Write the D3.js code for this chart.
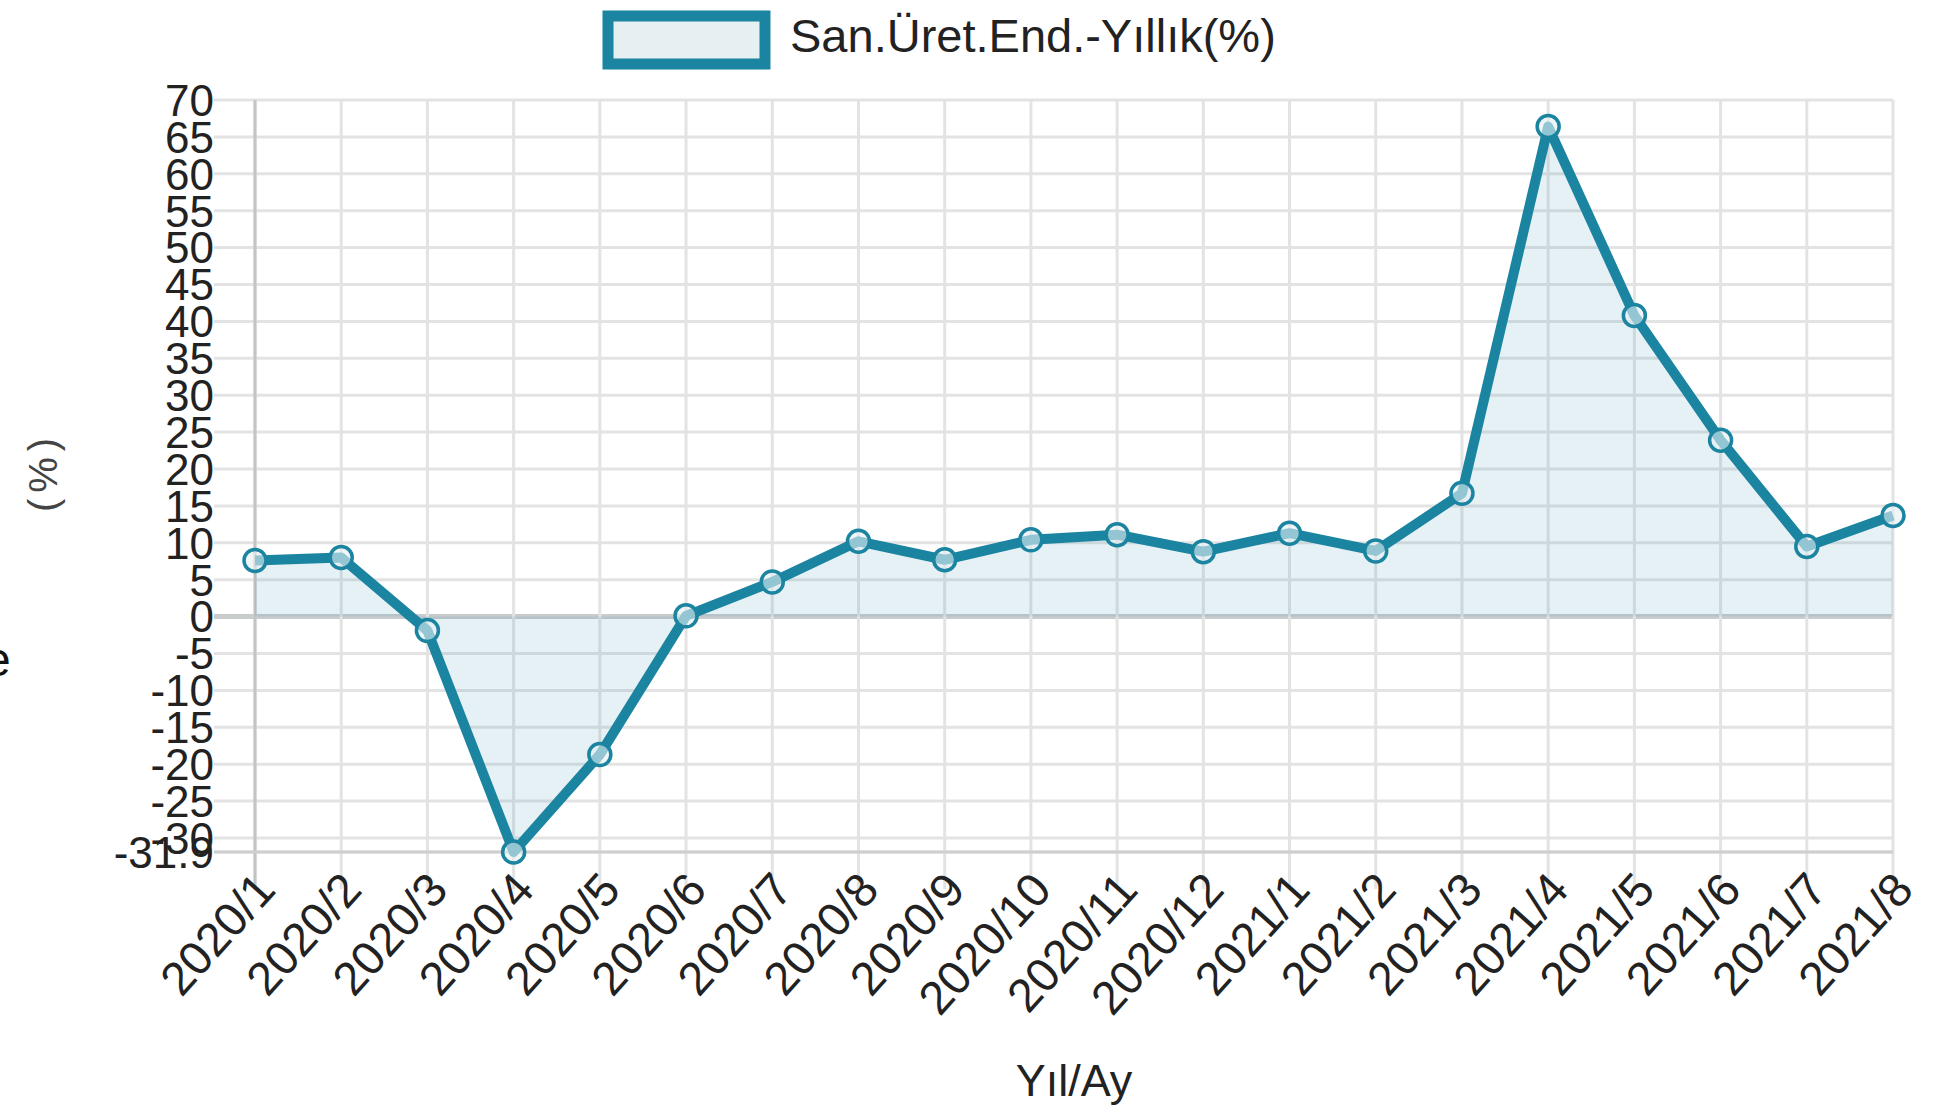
<!DOCTYPE html>
<html>
<head>
<meta charset="utf-8">
<script src="https://cdn.jsdelivr.net/npm/d3@7"></script>
<style>
  html, body { margin: 0; padding: 0; background: #fff; overflow: hidden; }
  text { font-family: "Liberation Sans", Arial, sans-serif; }
</style>
</head>
<body>
<div id="chart"></div>
<script>
// Data
var months = ["2020/1", "2020/2", "2020/3", "2020/4", "2020/5", "2020/6", "2020/7", "2020/8", "2020/9", "2020/10",
              "2020/11", "2020/12", "2021/1", "2021/2", "2021/3", "2021/4", "2021/5", "2021/6", "2021/7", "2021/8"];
var values = [7.6, 8.0, -1.9, -31.9, -18.7, 0.1, 4.7, 10.2, 7.7, 10.4,
              11.1, 8.8, 11.3, 8.9, 16.7, 66.4, 40.8, 23.9, 9.5, 13.7];
var yTicks = [-31.9, -30, -25, -20, -15, -10, -5, 0, 5, 10, 15, 20, 25, 30, 35, 40, 45, 50, 55, 60, 65, 70];
var seriesName = "San.Üret.End.-Yıllık(%)";
var xTitle = "Yıl/Ay";
var yTitle = "(%)";

var W = 1944, H = 1110;
var margin = {top: 100, right: 51, bottom: 258, left: 255};
var color = "#1b84a1";
var fillColor = "rgba(27,132,161,0.11)";
var gridColor = "#e3e3e3";

var svg = d3.select("#chart")
  .append("svg")
  .attr("width", W)
  .attr("height", H);

var x = d3.scalePoint()
  .domain(months)
  .range([margin.left, W - margin.right]);

var y = d3.scaleLinear()
  .domain([d3.min(yTicks), d3.max(yTicks)])
  .range([H - margin.bottom, margin.top]);

var data = months.map(function(m, i) { return {m: m, v: values[i]}; });

// grid
var grid = svg.append("g");
grid.selectAll("line.h")
  .data(yTicks)
  .join("line")
    .attr("class", "h")
    .attr("x1", margin.left - 41)
    .attr("x2", W - margin.right)
    .attr("y1", d => y(d))
    .attr("y2", d => y(d))
    .attr("stroke", d => d === 0 ? "#c9cccd" : gridColor)
    .attr("stroke-width", d => d === 0 ? 5 : 3);

grid.selectAll("line.v")
  .data(months)
  .join("line")
    .attr("class", "v")
    .attr("x1", d => x(d))
    .attr("x2", d => x(d))
    .attr("y1", margin.top)
    .attr("y2", H - margin.bottom + 37)
    .attr("stroke", gridColor)
    .attr("stroke-width", 3);

// axis lines
svg.append("line")
  .attr("x1", margin.left).attr("x2", margin.left)
  .attr("y1", margin.top).attr("y2", H - margin.bottom + 37)
  .attr("stroke", "#c4c4c4").attr("stroke-width", 3);
svg.append("line")
  .attr("x1", margin.left - 41).attr("x2", W - margin.right)
  .attr("y1", y(yTicks[0])).attr("y2", y(yTicks[0]))
  .attr("stroke", "#cfcfcf").attr("stroke-width", 3);

// y tick labels
svg.append("g")
  .selectAll("text")
  .data(yTicks)
  .join("text")
    .attr("x", margin.left - 41)
    .attr("y", d => y(d))
    .attr("dy", "0.36em")
    .attr("text-anchor", "end")
    .attr("font-size", 44)
    .attr("fill", "#222")
    .text(d => d);

// x tick labels
svg.append("g")
  .selectAll("text")
  .data(months)
  .join("text")
    .attr("transform", d => "translate(" + (x(d) + 10) + "," + (H - margin.bottom + 28) + ") rotate(-48)")
    .attr("dy", "0.36em")
    .attr("text-anchor", "end")
    .attr("font-size", 47)
    .attr("fill", "#222")
    .text(d => d);

// area + line
var area = d3.area()
  .x(d => x(d.m))
  .y0(y(0))
  .y1(d => y(d.v));
var line = d3.line()
  .x(d => x(d.m))
  .y(d => y(d.v));

svg.append("path")
  .datum(data)
  .attr("d", area)
  .attr("fill", fillColor);

svg.append("path")
  .datum(data)
  .attr("d", line)
  .attr("fill", "none")
  .attr("stroke", color)
  .attr("stroke-width", 10)
  .attr("stroke-linejoin", "round");

svg.append("g")
  .selectAll("circle")
  .data(data)
  .join("circle")
    .attr("cx", d => x(d.m))
    .attr("cy", d => y(d.v))
    .attr("r", 11)
    .attr("fill", "rgba(230,240,243,0.6)")
    .attr("stroke", color)
    .attr("stroke-width", 3.5);

// legend
var legend = svg.append("g");
legend.append("rect")
  .attr("x", 608).attr("y", 16)
  .attr("width", 157).attr("height", 48)
  .attr("fill", "#e6f0f3")
  .attr("stroke", color)
  .attr("stroke-width", 11);
legend.append("text")
  .attr("x", 790).attr("y", 52)
  .attr("font-size", 47)
  .attr("fill", "#222")
  .text(seriesName);

// axis titles
svg.append("text")
  .attr("x", (margin.left + W - margin.right) / 2)
  .attr("y", 1096)
  .attr("text-anchor", "middle")
  .attr("font-size", 45)
  .attr("fill", "#222")
  .text(xTitle);

svg.append("text")
  .attr("transform", "translate(57,472) rotate(-90)")
  .attr("text-anchor", "middle")
  .attr("font-size", 40)
  .attr("letter-spacing", 6)
  .attr("fill", "#444")
  .text(yTitle);

// clipped letter at the far left edge
svg.append("text")
  .attr("x", -16).attr("y", 676)
  .attr("font-size", 48)
  .attr("fill", "#111")
  .text("e");
</script>
</body>
</html>
